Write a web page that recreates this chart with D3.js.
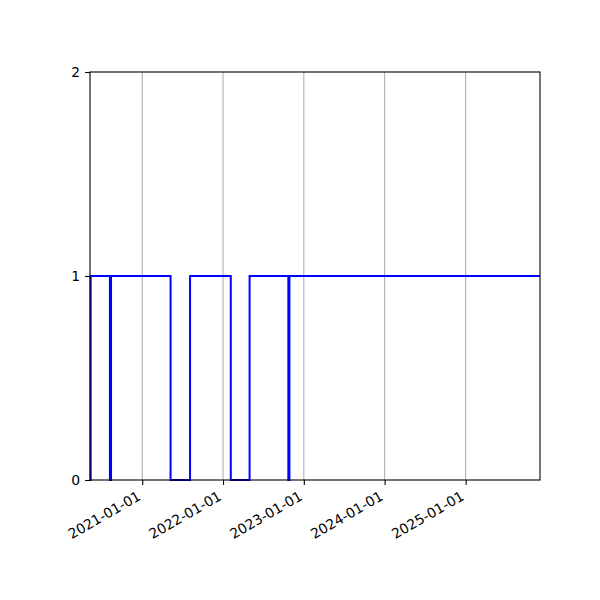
<!DOCTYPE html>
<html>
<head>
<meta charset="utf-8">
<script src="https://cdn.jsdelivr.net/npm/d3@7"></script>
<style>
  body { margin: 0; background: white; }
  text { font-family: "DejaVu Sans", sans-serif; }
</style>
</head>
<body>
<script>
// step data: date where the value starts, and the value
const dates = ['2020-05-10', '2020-05-13', '2020-08-08', '2020-08-13', '2021-05-09', '2021-08-05',
    '2022-02-05', '2022-05-01', '2022-10-23', '2022-10-28', '2025-12-03'];
const values = [0, 1, 0, 1, 0, 1, 0, 1, 0, 1, 1];
const xTicks = ['2021-01-01', '2022-01-01', '2023-01-01', '2024-01-01', '2025-01-01'];
const yTicks = [0, 1, 2];

const W = 600, H = 600;
const margin = { left: 90, right: 60, top: 72, bottom: 120 };

const parse = d3.timeParse('%Y-%m-%d');
const DATA = dates.map((d, i) => ({ date: parse(d), value: values[i] }));

const svg = d3.select('body').append('svg')
    .attr('width', W)
    .attr('height', H);

const x = d3.scaleTime()
    .domain(d3.extent(DATA, d => d.date))
    .range([margin.left, W - margin.right]);

const y = d3.scaleLinear()
    .domain([0, 2])
    .range([H - margin.bottom, margin.top]);

const fontSize = 13.9;

// vertical grid
svg.append('g')
    .selectAll('line')
    .data(xTicks)
    .enter()
    .append('line')
    .attr('x1', d => x(parse(d)))
    .attr('x2', d => x(parse(d)))
    .attr('y1', y(0))
    .attr('y2', y(2))
    .attr('stroke', '#b0b0b0')
    .attr('stroke-width', 1.1);

// step line
const line = d3.line()
    .x(d => x(d.date))
    .y(d => y(d.value))
    .curve(d3.curveStepAfter);

svg.append('path')
    .datum(DATA)
    .attr('d', line)
    .attr('fill', 'none')
    .attr('stroke', 'blue')
    .attr('stroke-width', 2);

// x axis
const xAxis = d3.axisBottom(x)
    .tickValues(xTicks.map(parse))
    .tickSize(4.9)
    .tickFormat(d3.timeFormat('%Y-%m-%d'));

const gx = svg.append('g')
    .attr('transform', `translate(0,${y(0)})`)
    .call(xAxis);
gx.select('.domain').remove();
gx.selectAll('line').attr('stroke', 'black').attr('stroke-width', 1.1);
gx.selectAll('text')
    .attr('font-size', fontSize)
    .attr('fill', 'black')
    .attr('text-anchor', 'end')
    .attr('dominant-baseline', 'middle')
    .attr('y', 0)
    .attr('dy', 0)
    .attr('transform', 'translate(-3,15.5) rotate(-30)');

// y axis
const yAxis = d3.axisLeft(y)
    .tickValues(yTicks)
    .tickSize(4.9)
    .tickFormat(d3.format('d'));

const gy = svg.append('g')
    .attr('transform', `translate(${margin.left},0)`)
    .call(yAxis);
gy.select('.domain').remove();
gy.selectAll('line').attr('stroke', 'black').attr('stroke-width', 1.1);
gy.selectAll('text')
    .attr('font-size', fontSize)
    .attr('fill', 'black')
    .attr('x', -9.8)
    .attr('dy', '0.35em');

// frame
svg.append('rect')
    .attr('x', margin.left)
    .attr('y', margin.top)
    .attr('width', W - margin.left - margin.right)
    .attr('height', H - margin.top - margin.bottom)
    .attr('fill', 'none')
    .attr('stroke', 'black')
    .attr('stroke-width', 1.1);
</script>
</body>
</html>
